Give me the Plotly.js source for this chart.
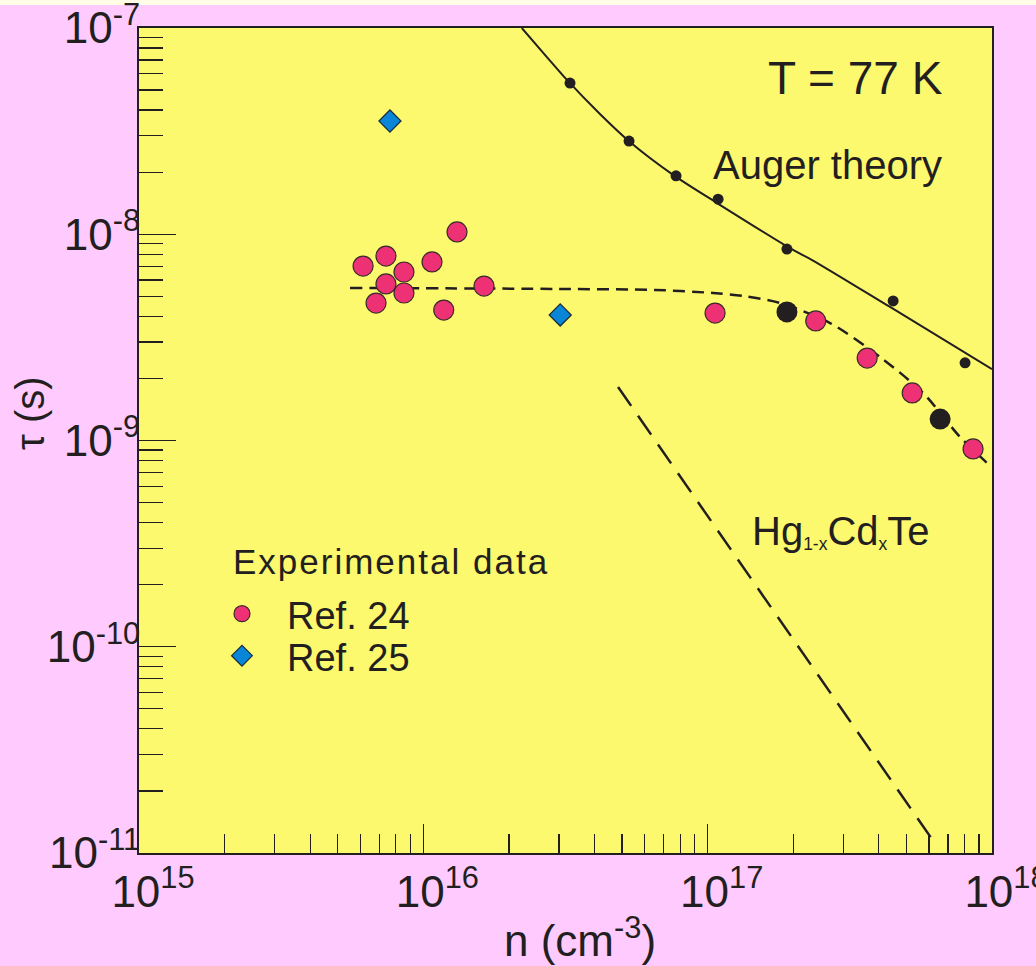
<!DOCTYPE html>
<html>
<head>
<meta charset="utf-8">
<script src="https://cdn.plot.ly/plotly-3.0.1.min.js"></script>
<style>
  html, body { margin: 0; padding: 0; background: #ffcbfe; }
  #chart { width: 1036px; height: 966px; }
</style>
</head>
<body>
<div id="chart"></div>
<script>
// ---- data ----
// Ref. 24 (pink circles)
const nRef24 = [6.14e15, 7.39e15, 8.55e15, 7.39e15, 6.82e15, 8.55e15, 1.073e16, 1.314e16, 1.18e16, 1.635e16, 1.062e17, 2.40e17, 3.64e17, 5.24e17, 8.58e17];
const tauRef24 = [7.01e-9, 7.84e-9, 6.56e-9, 5.74e-9, 4.64e-9, 5.19e-9, 7.34e-9, 1.026e-8, 4.29e-9, 5.61e-9, 4.15e-9, 3.80e-9, 2.51e-9, 1.70e-9, 9.1e-10];
// Ref. 25 (blue diamonds)
const nRef25 = [7.63e15, 3.03e16];
const tauRef25 = [3.54e-8, 4.06e-9];
// large black circles
const nBlack = [1.90e17, 6.57e17];
const tauBlack = [4.20e-9, 1.27e-9];
// Auger theory calculated points
const nAugerPts = [3.28e16, 5.29e16, 7.74e16, 1.088e17, 1.90e17, 4.49e17, 8.04e17];
const tauAugerPts = [5.41e-8, 2.83e-8, 1.92e-8, 1.48e-8, 8.48e-9, 4.75e-9, 2.38e-9];
// Auger theory curve
const nAugerLine = [2.22e16, 2.72e16, 3.20e16, 4.18e16, 5.33e16, 7.56e16, 1.079e17, 1.997e17, 2.33e17, 4.38e17, 1e18];
const tauAugerLine = [1e-7, 7.23e-8, 5.60e-8, 3.83e-8, 2.80e-8, 1.94e-8, 1.417e-8, 8.39e-9, 7.50e-9, 4.44e-9, 2.22e-9];
// fit through experimental data (short dashes)
const nFit = [5.52e15, 3.03e16, 6.53e16, 1.045e17, 1.332e17, 1.797e17, 2.695e17, 4.04e17, 5.72e17, 7.72e17, 9.61e17];
const tauFit = [5.49e-9, 5.43e-9, 5.37e-9, 5.19e-9, 5.02e-9, 4.64e-9, 3.71e-9, 2.54e-9, 1.70e-9, 1.04e-9, 7.78e-10];
// steep long-dash line
const nSteep = [4.84e16, 6.11e17];
const tauSteep = [1.817e-9, 1.183e-11];
// tick labels
const xTickVals = [1e15, 1e16, 1e17, 1e18];
const xTickText = ['10<sup>15</sup>', '10<sup>16</sup>', '10<sup>17</sup>', '10<sup>18</sup>'];
const yTickVals = [1e-11, 1e-10, 1e-9, 1e-8, 1e-7];
const yTickText = ['10<sup>-11</sup>', '10<sup>-10</sup>', '10<sup>-9</sup>', '10<sup>-8</sup>', '10<sup>-7</sup>'];

const FONT = 'Liberation Sans, Arial, sans-serif';
const INK = '#231f20';

const traces = [
  { x: nAugerLine, y: tauAugerLine, mode: 'lines', line: { color: INK, width: 2, shape: 'spline', smoothing: 0.8 }, showlegend: false, hoverinfo: 'skip' },
  { x: nFit, y: tauFit, mode: 'lines', line: { color: INK, width: 2.5, dash: '12px,7px', shape: 'spline', smoothing: 0.8 }, showlegend: false, hoverinfo: 'skip' },
  { x: nSteep, y: tauSteep, mode: 'lines', line: { color: INK, width: 2.5, dash: '23px,12px' }, showlegend: false, hoverinfo: 'skip' },
  { x: nAugerPts, y: tauAugerPts, mode: 'markers', marker: { color: INK, size: 11 }, showlegend: false },
  { x: nBlack, y: tauBlack, mode: 'markers', marker: { color: INK, size: 21 }, showlegend: false },
  { x: nRef24, y: tauRef24, mode: 'markers', name: 'Ref. 24', legend: 'legend', marker: { color: '#ee3175', size: 20, line: { color: '#3a2a2a', width: 1.2 } } },
  { x: nRef25, y: tauRef25, mode: 'markers', name: 'Ref. 25', legend: 'legend2', marker: { symbol: 'diamond', color: '#0a86d8', size: 17, line: { color: '#1a2a3a', width: 1.2 } } }
];

const legendCommon = {
  xanchor: 'left', yanchor: 'middle',
  bgcolor: 'rgba(0,0,0,0)', borderwidth: 0,
  font: { size: 38, family: FONT, color: INK },
  itemsizing: 'trace', itemwidth: 80
};

const layout = {
  width: 1036, height: 966,
  paper_bgcolor: '#ffcbfe',
  plot_bgcolor: '#fdf96e',
  margin: { l: 139, r: 44, t: 28, b: 113 },
  font: { family: FONT, color: INK },
  showlegend: true,
  legend: Object.assign({ x: (197 - 139) / 853, y: (853 - 614) / 825 }, legendCommon),
  legend2: Object.assign({ x: (197 - 139) / 853, y: (853 - 656) / 825 }, legendCommon),
  xaxis: {
    type: 'log', range: [15, 18],
    tickmode: 'array', tickvals: xTickVals, ticktext: xTickText,
    ticks: 'inside', ticklen: 29, tickwidth: 1.3, tickcolor: INK,
    minor: { ticks: 'inside', ticklen: 19, tickwidth: 1.2, tickcolor: INK, dtick: 'D1', showgrid: false },
    showgrid: false, zeroline: false,
    showline: true, linecolor: INK, linewidth: 2, mirror: true,
    ticklabeloverflow: 'allow', ticklabelstandoff: -1, ticklabelshift: 14,
    tickfont: { size: 44, family: FONT, color: INK }
  },
  yaxis: {
    type: 'log', range: [-11, -7],
    tickmode: 'array', tickvals: yTickVals, ticktext: yTickText,
    ticks: 'inside', ticklen: 37, tickwidth: 1.3, tickcolor: INK,
    minor: { ticks: 'inside', ticklen: 24, tickwidth: 1.2, tickcolor: INK, dtick: 'D1', showgrid: false },
    showgrid: false, zeroline: false,
    showline: true, linecolor: INK, linewidth: 2, mirror: true,
    ticklabeloverflow: 'allow', ticklabelstandoff: -12,
    tickfont: { size: 44, family: FONT, color: INK }
  },
  shapes: [
    { type: 'rect', xref: 'paper', yref: 'paper', x0: -0.17, x1: 1.06, y0: (853 - 5) / 825, y1: 1.04, fillcolor: '#fffde6', line: { width: 0 }, layer: 'below' }
  ],
  annotations: [
    { text: 'T = 77 K', xref: 'paper', yref: 'paper', x: 0.735, y: 0.94, xanchor: 'left', yanchor: 'middle', showarrow: false, font: { size: 46, family: FONT, color: INK } },
    { text: 'Auger theory', xref: 'paper', yref: 'paper', x: 0.671, y: 0.834, xanchor: 'left', yanchor: 'middle', showarrow: false, font: { size: 40, family: FONT, color: INK } },
    { text: 'Hg<span style="font-size:25px"><sub>1-x</sub></span>Cd<span style="font-size:25px"><sub>x</sub></span>Te', xref: 'paper', yref: 'paper', x: 0.716, y: 0.39, xanchor: 'left', yanchor: 'middle', showarrow: false, font: { size: 40, family: FONT, color: INK } },
    { text: '<span style="letter-spacing:2px">Experimental data</span>', xref: 'paper', yref: 'paper', x: (231 - 139) / 853, y: (853 - 561) / 825, xanchor: 'left', yanchor: 'middle', showarrow: false, font: { size: 35, family: FONT, color: INK } },
    { text: 'τ (s)', xref: 'paper', yref: 'paper', x: -0.163 + 30 / 853, y: (853 - 413) / 825, xanchor: 'center', yanchor: 'middle', textangle: -90, showarrow: false, font: { size: 40, family: FONT, color: INK } },
    { text: 'n (cm<sup>-3</sup>)', xref: 'paper', yref: 'paper', x: (580 - 139) / 853, y: (853 - 937) / 825, xanchor: 'center', yanchor: 'middle', showarrow: false, font: { size: 44, family: FONT, color: INK } }
  ]
};

Plotly.newPlot('chart', traces, layout, { displayModeBar: false, staticPlot: true });
</script>
</body>
</html>
